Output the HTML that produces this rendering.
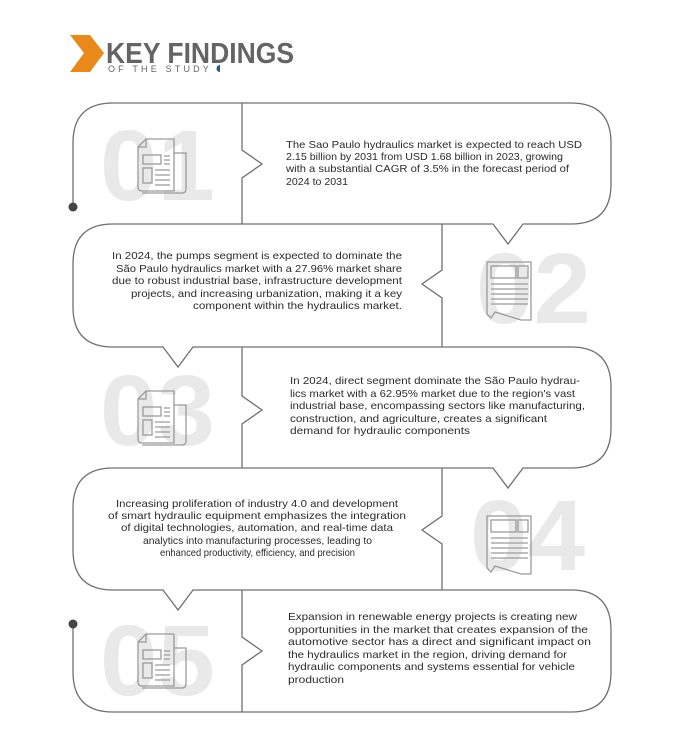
<!DOCTYPE html>
<html><head><meta charset="utf-8"><style>
html,body{margin:0;padding:0;background:#fff;}
svg{display:block}
</style></head><body>
<svg width="690" height="745" viewBox="0 0 690 745" xmlns="http://www.w3.org/2000/svg" font-family="Liberation Sans, sans-serif">
<defs>
<g id="iconL" fill="none" stroke="#9a9a9a" stroke-width="1.3">
  <path d="M0 8 L8 0 L36 0 L36 52 L4 52 Q0 52 0 48 Z"/>
  <path d="M0 8 L8 8 L8 0"/>
  <path d="M36 14 L48 14 L48 50 Q48 54 44 54 L4 54"/>
  <rect x="5" y="16" width="18" height="9"/>
  <rect x="5" y="29" width="9" height="15"/>
  <path d="M26 17 H32 M26 21 H32 M26 25 H32 M17 31 H32 M17 36 H32 M17 41 H32 M17 46 H32"/>
</g>
<g id="iconR" fill="none" stroke="#9a9a9a" stroke-width="1.3">
  <path d="M0 0 L44 0 L44 58 L34 58 L8 50 L4 56 L0 52 Z"/>
  <rect x="4" y="4" width="25" height="12"/>
  <rect x="31" y="4" width="10" height="12"/>
  <path d="M4 22 H41 M4 27 H41 M4 32 H41 M4 37 H41 M4 42 H41"/>
</g>
</defs>

<!-- header -->
<polygon points="70,35 90,35 104,53 90,72 70,72 84,53" fill="#e8891a"/>
<text x="106" y="63" font-size="29" font-weight="bold" fill="#646464" textLength="188" lengthAdjust="spacingAndGlyphs">KEY FINDINGS</text>
<text x="108" y="72" font-size="9" fill="#646464" letter-spacing="3.2" textLength="104" lengthAdjust="spacing">OF THE STUDY</text>
<path d="M220 65 A3.5 3.5 0 0 0 220 72 Z" fill="#1f5c8c"/>

<!-- big numbers -->
<g font-size="100" font-weight="bold" fill="#e9e9e9">
<text x="100" y="200" textLength="115" lengthAdjust="spacingAndGlyphs">01</text>
<text x="476" y="323" textLength="115" lengthAdjust="spacingAndGlyphs">02</text>
<text x="100" y="445" textLength="115" lengthAdjust="spacingAndGlyphs">03</text>
<text x="470" y="570" textLength="115" lengthAdjust="spacingAndGlyphs">04</text>
<text x="100" y="695" textLength="115" lengthAdjust="spacingAndGlyphs">05</text>
</g>
<use href="#iconL" x="138" y="139"/>
<use href="#iconR" x="487" y="262"/>
<use href="#iconL" x="138" y="391"/>
<use href="#iconR" x="487" y="516"/>
<use href="#iconL" x="138" y="634"/>

<!-- frame lines -->
<g fill="none" stroke="#707070" stroke-width="1.3">
<path d="M73 207 L73 143 Q73 103 113 103 L571 103 Q611 103 611 143 L611 184 Q611 224 571 224 L523 224 L508 244 L493 224 L113 224 Q73 224 73 264 L73 307 Q73 347 113 347 L163 347 L178 367 L193 347 L571 347 Q611 347 611 387 L611 428 Q611 468 571 468 L523 468 L508 488 L493 468 L113 468 Q73 468 73 508 L73 550 Q73 590 113 590 L163 590 L178 610 L193 590 L571 590 Q611 590 611 630 L611 672 Q611 712 571 712 L113 712 Q73 712 73 672 L73 626"/>
<path d="M242 103 L242 150 L262 164 L242 178 L242 224"/>
<path d="M442 224 L442 270 L422 284 L442 298 L442 347"/>
<path d="M242 347 L242 396 L262 410 L242 424 L242 468"/>
<path d="M442 468 L442 516 L422 530 L442 544 L442 590"/>
<path d="M242 590 L242 637 L262 651 L242 665 L242 712"/>
</g>
<circle cx="73" cy="207" r="4.5" fill="#444"/>
<circle cx="73" cy="624" r="4.5" fill="#444"/>

<!-- texts -->
<g font-size="10.5" fill="#2b2b2b" lengthAdjust="spacingAndGlyphs">
<text x="286" y="148" textLength="296" lengthAdjust="spacingAndGlyphs">The Sao Paulo hydraulics market is expected to reach USD</text>
<text x="286" y="160" textLength="277" lengthAdjust="spacingAndGlyphs">2.15 billion by 2031 from USD 1.68 billion in 2023, growing</text>
<text x="286" y="172" textLength="283" lengthAdjust="spacingAndGlyphs">with a substantial CAGR of 3.5% in the forecast period of</text>
<text x="286" y="185" textLength="62" lengthAdjust="spacingAndGlyphs">2024 to 2031</text>

<text x="112" y="259" textLength="290" lengthAdjust="spacingAndGlyphs">In 2024, the pumps segment is expected to dominate the</text>
<text x="116" y="272" textLength="286" lengthAdjust="spacingAndGlyphs">São Paulo hydraulics market with a 27.96% market share</text>
<text x="112" y="284" textLength="290" lengthAdjust="spacingAndGlyphs">due to robust industrial base, infrastructure development</text>
<text x="131" y="297" textLength="271" lengthAdjust="spacingAndGlyphs">projects, and increasing urbanization, making it a key</text>
<text x="193" y="309" textLength="209" lengthAdjust="spacingAndGlyphs">component within the hydraulics market.</text>

<text x="290" y="384" textLength="290" lengthAdjust="spacingAndGlyphs">In 2024, direct segment dominate the São Paulo hydrau-</text>
<text x="290" y="397" textLength="285" lengthAdjust="spacingAndGlyphs">lics market with a 62.95% market due to the region's vast</text>
<text x="290" y="409" textLength="295" lengthAdjust="spacingAndGlyphs">industrial base, encompassing sectors like manufacturing,</text>
<text x="290" y="422" textLength="257" lengthAdjust="spacingAndGlyphs">construction, and agriculture, creates a significant</text>
<text x="290" y="434" textLength="180" lengthAdjust="spacingAndGlyphs">demand for hydraulic components</text>

<text x="116" y="507" textLength="282" lengthAdjust="spacingAndGlyphs">Increasing proliferation of industry 4.0 and development</text>
<text x="108" y="519" textLength="298" lengthAdjust="spacingAndGlyphs">of smart hydraulic equipment emphasizes the integration</text>
<text x="121" y="531" textLength="272" lengthAdjust="spacingAndGlyphs">of digital technologies, automation, and real-time data</text>
<text x="143" y="544" textLength="229" lengthAdjust="spacingAndGlyphs">analytics into manufacturing processes, leading to</text>
<text x="160" y="556" textLength="195" lengthAdjust="spacingAndGlyphs">enhanced productivity, efficiency, and precision</text>

<text x="288" y="620" textLength="289" lengthAdjust="spacingAndGlyphs">Expansion in renewable energy projects is creating new</text>
<text x="288" y="633" textLength="300" lengthAdjust="spacingAndGlyphs">opportunities in the market that creates expansion of the</text>
<text x="288" y="645" textLength="303" lengthAdjust="spacingAndGlyphs">automotive sector has a direct and significant impact on</text>
<text x="288" y="658" textLength="279" lengthAdjust="spacingAndGlyphs">the hydraulics market in the region, driving demand for</text>
<text x="288" y="670" textLength="287" lengthAdjust="spacingAndGlyphs">hydraulic components and systems essential for vehicle</text>
<text x="288" y="683" textLength="56" lengthAdjust="spacingAndGlyphs">production</text>
</g>
</svg>
</body></html>
